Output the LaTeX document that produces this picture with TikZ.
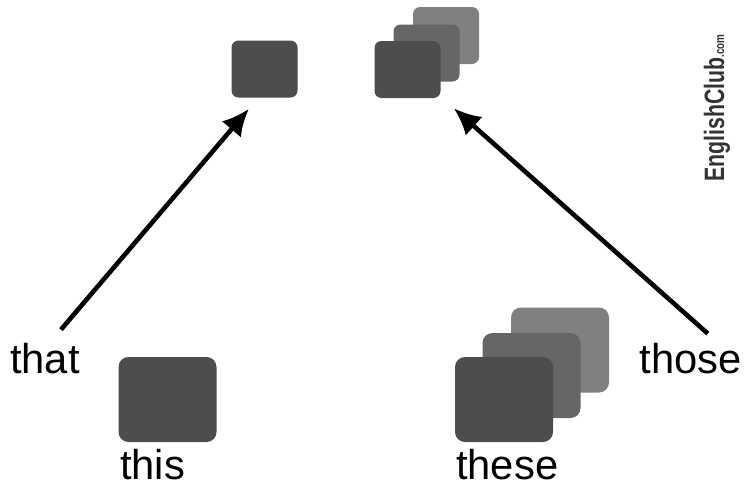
\documentclass[tikz,border=0pt]{standalone}
\usepackage{fontspec}
\setmainfont{Liberation Sans}
\usetikzlibrary{arrows.meta}

\definecolor{dark}{HTML}{4D4D4D}
\definecolor{mid}{HTML}{666666}
\definecolor{light}{HTML}{808080}
\definecolor{logo}{HTML}{333333}

\begin{document}
\begin{tikzpicture}[x=1pt,y=-1pt,
    big/.style={rectangle,rounded corners=10pt,minimum width=98pt,minimum height=85pt,inner sep=0pt},
    small/.style={rectangle,rounded corners=7pt,minimum width=66pt,minimum height=57pt,inner sep=0pt},
    word/.style={inner sep=0pt,font=\fontsize{41.7}{48}\selectfont},
    arr/.style={-{Latex[length=27pt,width=25pt]},line width=4.6pt}]
    \useasboundingbox (0,0) rectangle (744,485);
    % one thing
    \node[small,fill=dark] (that top) at (264.5,69) {};
    \node[big,fill=dark] (this box) at (167.5,399.5) {};
    % many things
    \node[small,fill=light] (those3) at (446,35.5) {};
    \node[small,fill=mid] (those2) at (426.5,53) {};
    \node[small,fill=dark] (those1) at (407.5,69.5) {};
    \node[big,fill=light] (these3) at (560,350) {};
    \node[big,fill=mid] (these2) at (531.5,375.5) {};
    \node[big,fill=dark] (these1) at (504,399.5) {};
    % words
    \node[word,anchor=base west] (that) at (10,373) {that};
    \node[word,anchor=base east] (those) at (742,373) {those};
    \node[word,anchor=base west] (this) at (120,479) {this};
    \node[word,anchor=base west] (these) at (456,479) {these};
    \node[inner sep=0pt,anchor=base west,rotate=90,text=logo] (logo) at (724,182)
        {\scalebox{0.76}[1]{\fontsize{28}{30}\selectfont\bfseries EnglishClub\fontsize{13}{14}\selectfont.com}};
    % arrows
    \draw[arr] ([xshift=16pt,yshift=13pt]that.north) -- ([xshift=-15.5pt,yshift=-11pt]that top.south);
    \draw[arr] ([xshift=17pt,yshift=9pt]those.north) -- ([xshift=13pt,yshift=-10pt]those1.south east);
\end{tikzpicture}
\end{document}
